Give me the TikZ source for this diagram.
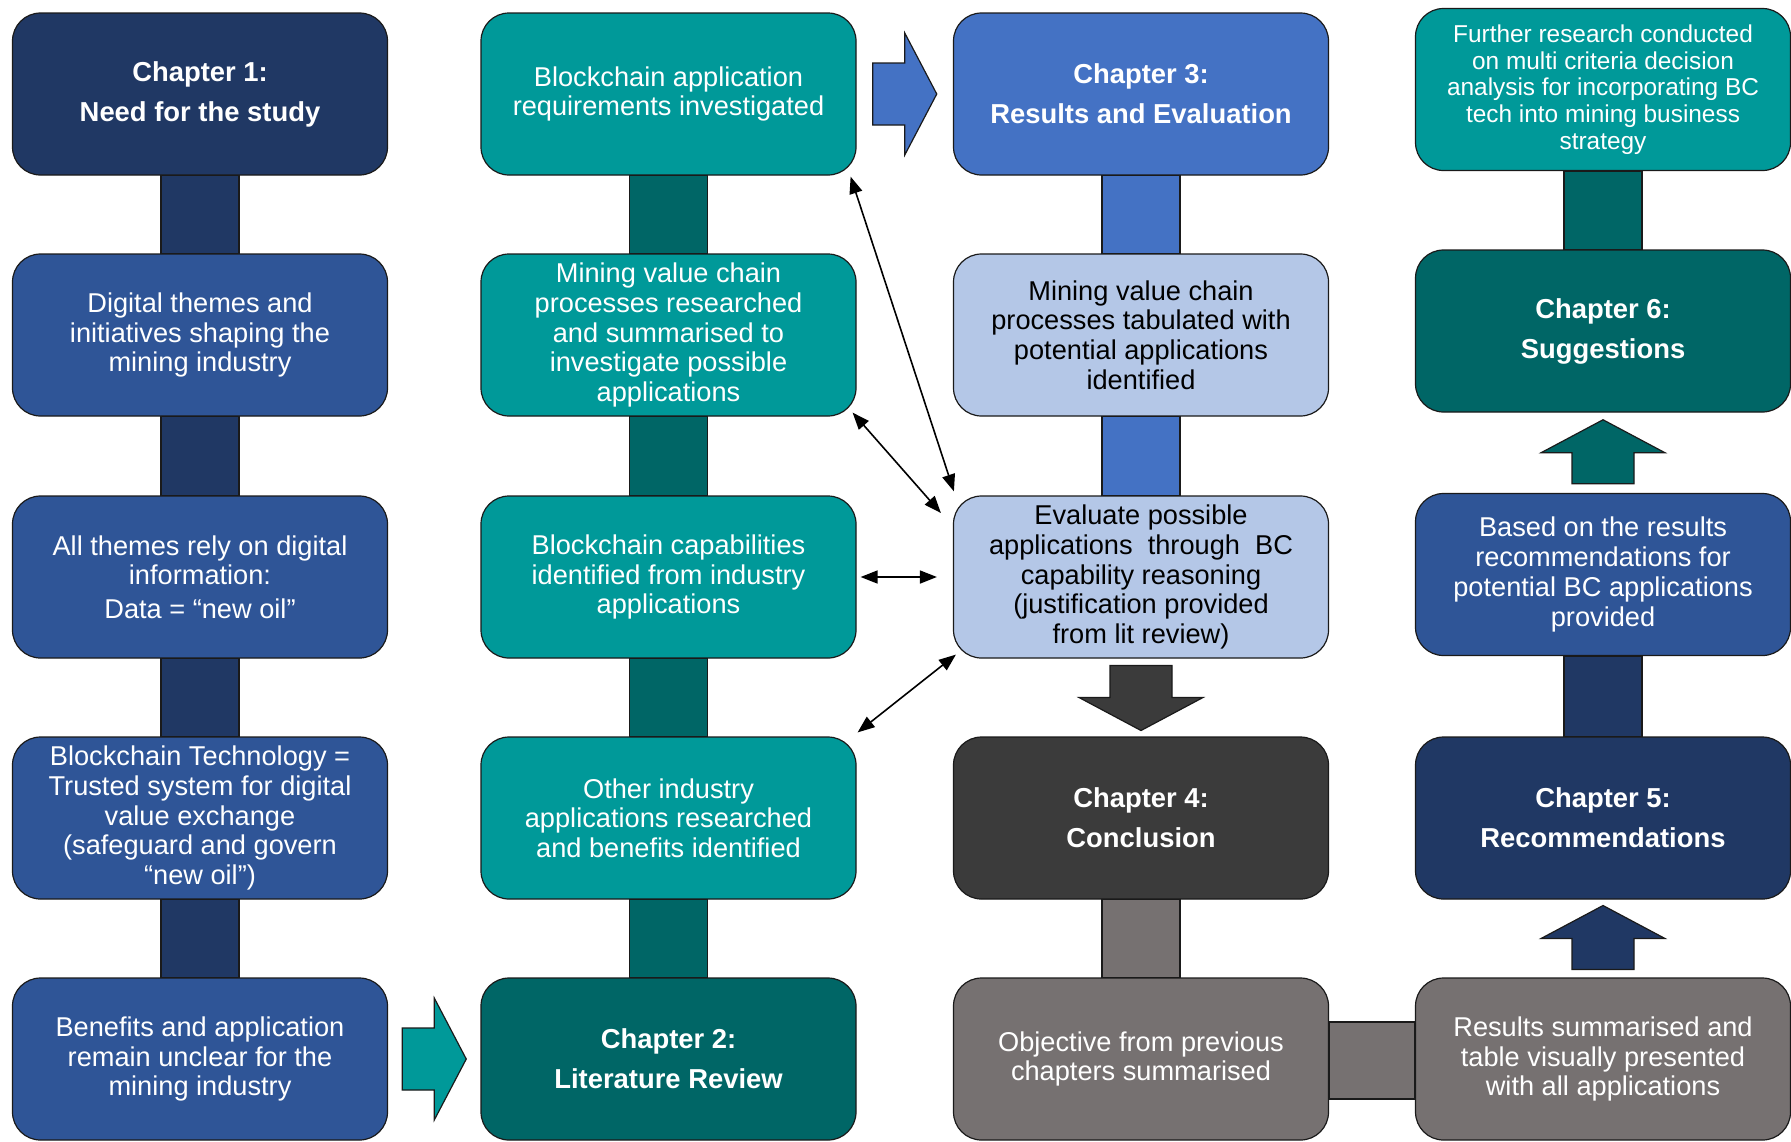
\documentclass[tikz,border=0pt]{standalone}
\usepackage{fontspec}
\setmainfont{Liberation Sans}
\usetikzlibrary{calc,arrows.meta}

\definecolor{navyA}{HTML}{203864}
\definecolor{blueB}{HTML}{2F5597}
\definecolor{blueC}{HTML}{4472C4}
\definecolor{paleblue}{HTML}{B4C7E7}
\definecolor{tealA}{HTML}{009999}
\definecolor{tealD}{HTML}{006666}
\definecolor{charcoal}{HTML}{3B3B3B}
\definecolor{greyW}{HTML}{767171}
\definecolor{edge}{HTML}{1A1A1A}

\tikzset{
  box/.style={draw=edge, line width=0.6pt, rounded corners=14pt,
    minimum width=187.5pt, minimum height=81pt, inner sep=2pt,
    align=center, text=white, font=\fontsize{13.6pt}{14.85pt}\selectfont},
  title/.style={box, font=\fontsize{13.7pt}{20pt}\selectfont\bfseries},
  small/.style={box, font=\fontsize{12.2pt}{13.3pt}\selectfont},
  bar/.style={draw=edge, line width=0.6pt},
  fat/.style={draw=edge, line width=0.6pt},
  dbl/.style={{Triangle[length=8.5pt,width=6.5pt]}-{Triangle[length=8.5pt,width=6.5pt]},
    line width=0.8pt, draw=black},
  fatright/.pic={\path[fat,pic actions] (-32,-31)--(0,-31)--(0,-61)--(32,0)--(0,61)--(0,31)--(-32,31)--cycle;},
  fatdown/.pic={\path[fat,pic actions] (-31,-32)--(31,-32)--(31,0)--(62,0)--(0,33)--(-62,0)--(-31,0)--cycle;},
  fatup/.pic={\path[fat,pic actions] (-31,31)--(31,31)--(31,0)--(62,0)--(0,-33)--(-62,0)--(-31,0)--cycle;},
}

\begin{document}
\begin{tikzpicture}[x=0.5pt,y=-0.5pt]
\useasboundingbox (0,0) rectangle (1791,1141);

% ---- column 1: need for the study ----
\node[title, fill=navyA] (a1) at (200,94) {Chapter 1:\\Need for the study};
\node[box, fill=blueB] (a2) at (200,335) {Digital themes and\\initiatives shaping the\\mining industry};
\node[box, fill=blueB] (a3) at (200,577) {All themes rely on digital\\information:\\[2pt]Data = “new oil”};
\node[box, fill=blueB] (a4) at (200,818) {Blockchain Technology =\\Trusted system for digital\\value exchange\\(safeguard and govern\\“new oil”)};
\node[box, fill=blueB] (a5) at (200,1059) {Benefits and application\\remain unclear for the\\mining industry};

% ---- column 2: literature review ----
\node[box, fill=tealA] (b1) at (668.5,94) {Blockchain application\\requirements investigated};
\node[box, fill=tealA] (b2) at (668.5,335) {Mining value chain\\processes researched\\and summarised to\\investigate possible\\applications};
\node[box, fill=tealA] (b3) at (668.5,577) {Blockchain capabilities\\identified from industry\\applications};
\node[box, fill=tealA] (b4) at (668.5,818) {Other industry\\applications researched\\and benefits identified};
\node[title, fill=tealD] (b5) at (668.5,1059) {Chapter 2:\\Literature Review};

% ---- column 3: results and conclusion ----
\node[title, fill=blueC] (c1) at (1141,94) {Chapter 3:\\Results and Evaluation};
\node[box, fill=paleblue, text=black] (c2) at (1141,335) {Mining value chain\\processes tabulated with\\potential applications\\identified};
\node[box, fill=paleblue, text=black] (c3) at (1141,577) {Evaluate possible\\applications\ \ through\ \ BC\\capability reasoning\\(justification provided\\from lit review)};
\node[title, fill=charcoal] (c4) at (1141,818) {Chapter 4:\\Conclusion};
\node[box, fill=greyW] (c5) at (1141,1059) {Objective from previous\\chapters summarised};

% ---- column 4: recommendations and suggestions ----
\node[small, fill=tealA] (d1) at (1603,89.5) {Further research conducted\\on multi criteria decision\\analysis for incorporating BC\\tech into mining business\\strategy};
\node[title, fill=tealD] (d2) at (1603,331) {Chapter 6:\\Suggestions};
\node[box, fill=blueB] (d3) at (1603,574.5) {Based on the results\\recommendations for\\potential BC applications\\provided};
\node[title, fill=navyA] (d4) at (1603,818) {Chapter 5:\\Recommendations};
\node[box, fill=greyW] (d5) at (1603,1059) {Results summarised and\\table visually presented\\with all applications};

% ---- joining bars between stacked boxes ----
\foreach \u/\l/\c in {a1/a2/navyA, a2/a3/navyA, a3/a4/navyA, a4/a5/navyA,
                      b1/b2/tealD, b2/b3/tealD, b3/b4/tealD, b4/b5/tealD,
                      c1/c2/blueC, c2/c3/blueC, c4/c5/greyW,
                      d1/d2/tealD, d3/d4/navyA}
  \draw[bar, fill=\c] ($(\u.south)+(-39,0)$) rectangle ($(\l.north)+(39,0)$);
\draw[bar, fill=greyW] ($(c5.east)+(0,-37)$) rectangle ($(d5.west)+(0,40)$);

% ---- block arrows ----
\pic[fill=blueC] at ($(b1.east)!0.5!(c1.west)$) {fatright};
\pic[fill=tealA] at ($(a5.east)!0.5!(b5.west)$) {fatright};
\pic[fill=charcoal] at ($(c3.south)!0.5!(c4.north)$) {fatdown};
\pic[fill=tealD] at ($(d3.north)!0.5!(d2.south)$) {fatup};
\pic[fill=navyA] at ($(d5.north)!0.5!(d4.south)$) {fatup};

% ---- two-way links between the literature review and the evaluation ----
\draw[dbl] ($(b1.south east)+(-6,1)$) -- ($(c3.north west)+(1,-4)$);
\draw[dbl] ($(b2.south east)+(-4,-4)$) -- ($(c3.west)+(-12,-64)$);
\draw[dbl] ($(b3.east)+(4,0)$) -- ($(c3.west)+(-16,0)$);
\draw[dbl] ($(c3.south west)+(3,-4)$) -- ($(b4.north east)+(1,-4)$);
\end{tikzpicture}
\end{document}
